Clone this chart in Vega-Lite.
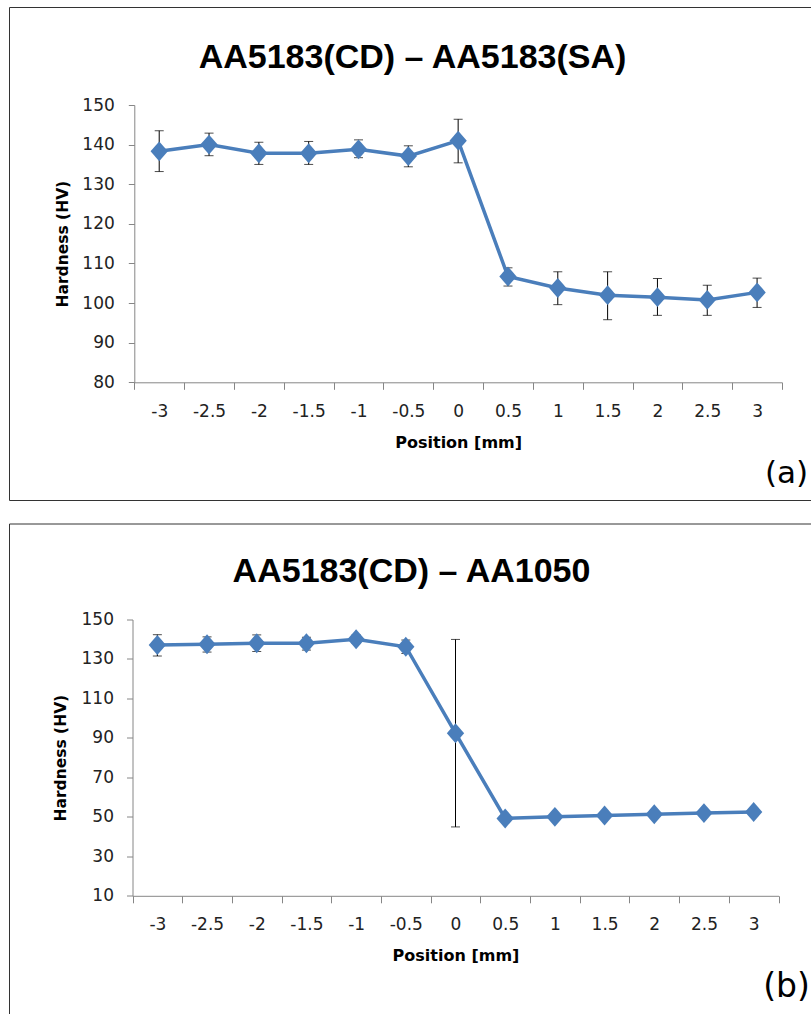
{
  "$schema": "https://vega.github.io/schema/vega-lite/v6.json",
  "padding": {"left": 8, "top": 6, "right": 0, "bottom": 0},
  "spacing": 21.5,
  "background": "white",
  "datasets": {
    "a": [
      {"pos": "-3", "hv": 138.3, "lo": 133.2, "hi": 143.5},
      {"pos": "-2.5", "hv": 140.0, "lo": 137.2, "hi": 142.9},
      {"pos": "-2", "hv": 137.8, "lo": 135.0, "hi": 140.6},
      {"pos": "-1.5", "hv": 137.8, "lo": 135.0, "hi": 140.8},
      {"pos": "-1", "hv": 138.8, "lo": 136.7, "hi": 141.2},
      {"pos": "-0.5", "hv": 137.1, "lo": 134.4, "hi": 139.7},
      {"pos": "0", "hv": 141.0, "lo": 135.4, "hi": 146.4},
      {"pos": "0.5", "hv": 106.7, "lo": 104.3, "hi": 108.9},
      {"pos": "1", "hv": 103.8, "lo": 99.6, "hi": 107.9},
      {"pos": "1.5", "hv": 102.0, "lo": 95.8, "hi": 107.9},
      {"pos": "2", "hv": 101.5, "lo": 96.9, "hi": 106.2},
      {"pos": "2.5", "hv": 100.8, "lo": 96.9, "hi": 104.5},
      {"pos": "3", "hv": 102.7, "lo": 98.9, "hi": 106.3}
    ],
    "b": [
      {"pos": "-3", "hv": 137.1, "lo": 131.5, "hi": 142.3},
      {"pos": "-2.5", "hv": 137.5, "lo": 133.5, "hi": 141.2},
      {"pos": "-2", "hv": 138.0, "lo": 133.8, "hi": 142.2},
      {"pos": "-1.5", "hv": 138.0, "lo": 134.5, "hi": 141.0},
      {"pos": "-1", "hv": 140.0, "lo": 137.8, "hi": 142.2},
      {"pos": "-0.5", "hv": 136.2, "lo": 132.8, "hi": 139.6},
      {"pos": "0", "hv": 92.4, "lo": 44.9, "hi": 139.9},
      {"pos": "0.5", "hv": 49.2, "lo": 48.0, "hi": 50.4},
      {"pos": "1", "hv": 50.0, "lo": 49.0, "hi": 51.0},
      {"pos": "1.5", "hv": 50.7, "lo": 49.6, "hi": 51.8},
      {"pos": "2", "hv": 51.3, "lo": 50.3, "hi": 52.3},
      {"pos": "2.5", "hv": 51.9, "lo": 50.9, "hi": 52.9},
      {"pos": "3", "hv": 52.5, "lo": 51.5, "hi": 53.5}
    ]
  },
  "vconcat": [
    {
      "width": 803,
      "height": 493,
      "data": {"name": "a"},
      "layer": [
        {
          "mark": {"type": "rule", "color": "#000000", "strokeWidth": 1},
          "encoding": {
            "x": {"field": "pos", "type": "ordinal", "bandPosition": 0.5, "sort": ["-3","-2.5","-2","-1.5","-1","-0.5","0","0.5","1","1.5","2","2.5","3"],
                  "scale": {"type": "band", "range": [125.3, 773], "paddingInner": 0, "paddingOuter": 0},
                  "axis": {"orient": "top", "domain": false, "ticks": false, "labels": false, "grid": false, "title": "(a)", "titleX": 777, "titleY": 466, "titleAngle": 0, "titleAlign": "center", "titleBaseline": "middle", "titleFont": "DejaVu Sans", "titleFontSize": 31, "titleFontWeight": "normal", "titleColor": "#000000"}},
            "y": {"field": "lo", "type": "quantitative", "scale": {"domain": [80, 150], "range": [375.3, 98], "nice": false, "zero": false}, "axis": null},
            "y2": {"field": "hi"}
          }
        },
        {
          "mark": {"type": "tick", "color": "#000000", "thickness": 1, "size": 9},
          "encoding": {
            "x": {"field": "pos", "type": "ordinal", "bandPosition": 0.5, "sort": ["-3","-2.5","-2","-1.5","-1","-0.5","0","0.5","1","1.5","2","2.5","3"], "axis": null},
            "y": {"field": "lo", "type": "quantitative", "axis": null}
          }
        },
        {
          "mark": {"type": "tick", "color": "#000000", "thickness": 1, "size": 9},
          "encoding": {
            "x": {"field": "pos", "type": "ordinal", "bandPosition": 0.5, "sort": ["-3","-2.5","-2","-1.5","-1","-0.5","0","0.5","1","1.5","2","2.5","3"], "axis": null},
            "y": {"field": "hi", "type": "quantitative", "axis": null}
          }
        },
        {
          "mark": {"type": "line", "color": "#4A7EBB", "strokeWidth": 3.5},
          "encoding": {
            "x": {"field": "pos", "type": "ordinal", "bandPosition": 0.5, "sort": ["-3","-2.5","-2","-1.5","-1","-0.5","0","0.5","1","1.5","2","2.5","3"],
                  "axis": {"orient": "bottom", "title": "Position [mm]", "offset": -117.7, "tickBand": "extent", "tickSize": 7, "labelPadding": 14, "labelAngle": 0, "titlePadding": 15}},
            "y": {"field": "hv", "type": "quantitative",
                  "axis": {"orient": "left", "title": "Hardness (HV)", "offset": -125.3, "values": [80, 90, 100, 110, 120, 130, 140, 150], "tickSize": 6, "labelPadding": 14, "titlePadding": 11, "grid": false}}
          }
        },
        {
          "mark": {"type": "point", "shape": "M-1,0L0,-1.15L1,0L0,1.15Z", "filled": true, "opacity": 1, "color": "#4A7EBB", "size": 300},
          "encoding": {
            "x": {"field": "pos", "type": "ordinal", "bandPosition": 0.5, "sort": ["-3","-2.5","-2","-1.5","-1","-0.5","0","0.5","1","1.5","2","2.5","3"], "axis": null},
            "y": {"field": "hv", "type": "quantitative",
                  "axis": {"orient": "right", "domain": false, "ticks": false, "labels": false, "grid": false, "title": "AA5183(CD) – AA5183(SA)", "titleX": -400, "titleY": 60, "titleAngle": 0, "titleAlign": "center", "titleBaseline": "alphabetic", "titleFont": "Liberation Sans", "titleFontSize": 34, "titleFontWeight": "bold", "titleColor": "#000000"}}
          }
        }
      ],
      "resolve": {"axis": {"x": "independent", "y": "independent"}}
    },
    {
      "width": 803,
      "height": 491,
      "data": {"name": "b"},
      "layer": [
        {
          "mark": {"type": "rule", "color": "#000000", "strokeWidth": 1},
          "encoding": {
            "x": {"field": "pos", "type": "ordinal", "bandPosition": 0.5, "sort": ["-3","-2.5","-2","-1.5","-1","-0.5","0","0.5","1","1.5","2","2.5","3"],
                  "scale": {"type": "band", "range": [123.5, 769.5], "paddingInner": 0, "paddingOuter": 0},
                  "axis": {"orient": "top", "domain": false, "ticks": false, "labels": false, "grid": false, "title": "(b)", "titleX": 777, "titleY": 463, "titleAngle": 0, "titleAlign": "center", "titleBaseline": "middle", "titleFont": "DejaVu Sans", "titleFontSize": 33, "titleFontWeight": "normal", "titleColor": "#000000"}},
            "y": {"field": "lo", "type": "quantitative", "scale": {"domain": [10, 150], "range": [372.3, 96], "nice": false, "zero": false}, "axis": null},
            "y2": {"field": "hi"}
          }
        },
        {
          "mark": {"type": "tick", "color": "#000000", "thickness": 1, "size": 9},
          "encoding": {
            "x": {"field": "pos", "type": "ordinal", "bandPosition": 0.5, "sort": ["-3","-2.5","-2","-1.5","-1","-0.5","0","0.5","1","1.5","2","2.5","3"], "axis": null},
            "y": {"field": "lo", "type": "quantitative", "axis": null}
          }
        },
        {
          "mark": {"type": "tick", "color": "#000000", "thickness": 1, "size": 9},
          "encoding": {
            "x": {"field": "pos", "type": "ordinal", "bandPosition": 0.5, "sort": ["-3","-2.5","-2","-1.5","-1","-0.5","0","0.5","1","1.5","2","2.5","3"], "axis": null},
            "y": {"field": "hi", "type": "quantitative", "axis": null}
          }
        },
        {
          "mark": {"type": "line", "color": "#4A7EBB", "strokeWidth": 3.5},
          "encoding": {
            "x": {"field": "pos", "type": "ordinal", "bandPosition": 0.5, "sort": ["-3","-2.5","-2","-1.5","-1","-0.5","0","0.5","1","1.5","2","2.5","3"],
                  "axis": {"orient": "bottom", "title": "Position [mm]", "offset": -118.7, "tickBand": "extent", "tickSize": 7, "labelPadding": 14, "labelAngle": 0, "titlePadding": 15}},
            "y": {"field": "hv", "type": "quantitative",
                  "axis": {"orient": "left", "title": "Hardness (HV)", "offset": -123.5, "values": [10, 30, 50, 70, 90, 110, 130, 150], "tickSize": 6, "labelPadding": 13, "titlePadding": 13, "grid": false}}
          }
        },
        {
          "mark": {"type": "point", "shape": "M-1,0L0,-1.15L1,0L0,1.15Z", "filled": true, "opacity": 1, "color": "#4A7EBB", "size": 300},
          "encoding": {
            "x": {"field": "pos", "type": "ordinal", "bandPosition": 0.5, "sort": ["-3","-2.5","-2","-1.5","-1","-0.5","0","0.5","1","1.5","2","2.5","3"], "axis": null},
            "y": {"field": "hv", "type": "quantitative",
                  "axis": {"orient": "right", "domain": false, "ticks": false, "labels": false, "grid": false, "title": "AA5183(CD) – AA1050", "titleX": -401, "titleY": 58, "titleAngle": 0, "titleAlign": "center", "titleBaseline": "alphabetic", "titleFont": "Liberation Sans", "titleFontSize": 34, "titleFontWeight": "bold", "titleColor": "#000000"}}
          }
        }
      ],
      "resolve": {"axis": {"x": "independent", "y": "independent"}}
    }
  ],
  "config": {
    "view": {"stroke": "#333333", "strokeWidth": 1, "fill": "white"},
    "axis": {
      "domainColor": "#868686",
      "tickColor": "#868686",
      "domainWidth": 1,
      "tickWidth": 1,
      "labelFont": "DejaVu Sans",
      "labelFontSize": 17,
      "labelColor": "#222222",
      "titleFont": "DejaVu Sans",
      "titleFontSize": 16,
      "titleFontWeight": "bold",
      "titleColor": "#000000",
      "grid": false
    },
    "axisY": {"titleFontSize": 15.5}
  }
}
